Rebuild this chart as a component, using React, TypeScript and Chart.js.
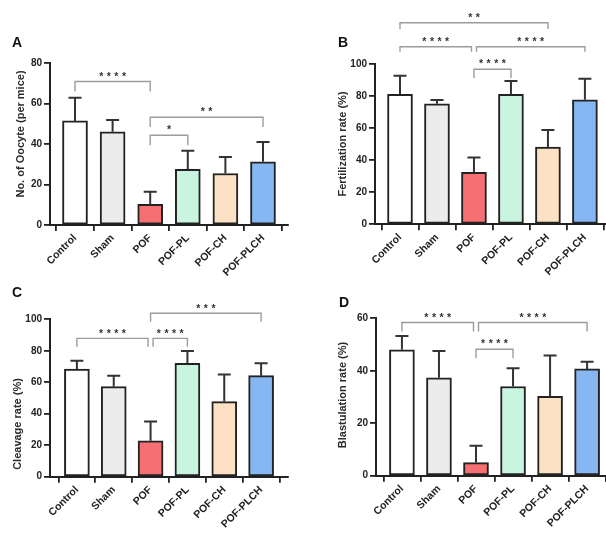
import { useEffect, useRef } from "react";
import { Chart, registerables } from "chart.js";

Chart.register(...registerables);

// ---- data ----
const groups = ["Control", "Sham", "POF", "POF-PL", "POF-CH", "POF-PLCH"];

const oocyteMean = [51.5, 46.1, 10.2, 27.5, 25.5, 31.3];
const oocyteSD = [11.4, 5.8, 6.2, 9.2, 8.2, 9.8];
const oocyteTicks = [0, 20, 40, 60, 80];

const fertilizationMean = [81.3, 75.3, 32.5, 81.3, 48.2, 77.8];
const fertilizationSD = [11.6, 2.4, 9.2, 8.3, 10.8, 13.1];
const fertilizationTicks = [0, 20, 40, 60, 80, 100];

const cleavageMean = [68.4, 57.2, 22.8, 72.0, 47.7, 64.2];
const cleavageSD = [5.3, 7.0, 12.2, 7.9, 17.3, 7.8];
const cleavageTicks = [0, 20, 40, 60, 80, 100];

const blastulationMean = [48.0, 37.3, 5.0, 34.0, 30.3, 40.7];
const blastulationSD = [5.3, 10.2, 6.4, 7.0, 15.5, 2.7];
const blastulationTicks = [0, 20, 40, 60];

type Bracket = { from: number; to: number; level: number; drop: number; stars: string };

const oocyteBrackets: Bracket[] = [
  { from: 0, to: 2, level: 71, drop: 5, stars: "****" },
  { from: 2, to: 5, level: 53.3, drop: 4.8, stars: "**" },
  { from: 2, to: 3, level: 44.4, drop: 4.9, stars: "*" },
];
const fertilizationBrackets: Bracket[] = [
  { from: 0, to: 4, level: 126, drop: 4, stars: "**" },
  { from: 0, to: 2, level: 111, drop: 3.2, stars: "****" },
  { from: 2, to: 5, level: 111, drop: 3.2, stars: "****" },
  { from: 2, to: 3, level: 96.9, drop: 5.4, stars: "****" },
];
const cleavageBrackets: Bracket[] = [
  { from: 2, to: 5, level: 103.8, drop: 5.3, stars: "***" },
  { from: 0, to: 2, level: 87.9, drop: 5.3, stars: "****" },
  { from: 2, to: 3, level: 87.9, drop: 5.3, stars: "****" },
];
const blastulationBrackets: Bracket[] = [
  { from: 0, to: 2, level: 58.4, drop: 3.4, stars: "****" },
  { from: 2, to: 5, level: 58.4, drop: 3.4, stars: "****" },
  { from: 2, to: 3, level: 48.2, drop: 3.4, stars: "****" },
];

// ---- styling ----
const barColors = ["#ffffff", "#ececec", "#f66f72", "#c8f4e0", "#fde1c4", "#86b7f3"];
const FONT = "'Liberation Sans', Arial, Helvetica, sans-serif";
const INK = "#222222";
const STAR_SPACING = 3.5;

type Panel = {
  letter: string;
  title: string;
  mean: number[];
  sd: number[];
  ticks: number[];
  brackets: Bracket[];
  rect: { left: number; top: number; w: number; h: number };
  yWidth: number;
  xHeight: number;
  padTop: number;
  padRight: number;
  xMin: number;
  xMax: number;
  letterPos: [number, number];
  titlePos: [number, number];
};

const panels: Panel[] = [
  {
    letter: "A", title: "No. of Oocyte (per mice)",
    mean: oocyteMean, sd: oocyteSD, ticks: oocyteTicks, brackets: oocyteBrackets,
    rect: { left: 0, top: 0, w: 303, h: 285 },
    yWidth: 50, xHeight: 60, padTop: 63.3, padRight: 15,
    xMin: -0.665, xMax: 5.665, letterPos: [17, 43], titlePos: [21, 134],
  },
  {
    letter: "B", title: "Fertilization rate (%)",
    mean: fertilizationMean, sd: fertilizationSD, ticks: fertilizationTicks, brackets: fertilizationBrackets,
    rect: { left: 303, top: 0, w: 303, h: 285 },
    yWidth: 72, xHeight: 60.7, padTop: 64.3, padRight: 0,
    xMin: -0.676, xMax: 5.57, letterPos: [343, 43], titlePos: [343, 144],
  },
  {
    letter: "C", title: "Cleavage rate (%)",
    mean: cleavageMean, sd: cleavageSD, ticks: cleavageTicks, brackets: cleavageBrackets,
    rect: { left: 0, top: 268, w: 303, h: 267 },
    yWidth: 50, xHeight: 58.3, padTop: 51.3, padRight: 15,
    xMin: -0.73, xMax: 5.73, letterPos: [17, 293], titlePos: [18, 424],
  },
  {
    letter: "D", title: "Blastulation rate (%)",
    mean: blastulationMean, sd: blastulationSD, ticks: blastulationTicks, brackets: blastulationBrackets,
    rect: { left: 303, top: 268, w: 303, h: 267 },
    yWidth: 73, xHeight: 59.3, padTop: 50.3, padRight: 0,
    xMin: -0.7, xMax: 5.51, letterPos: [344, 303], titlePos: [343, 395],
  },
];

// Error bars (upper SD only), significance brackets, panel letter and y title
const panelDecor = {
  id: "panelDecor",
  afterDatasetsDraw(chart: any, _args: any, opts: any) {
    const p: Panel = opts.panel;
    const ctx: CanvasRenderingContext2D = chart.ctx;
    const ys = chart.scales.y;
    const meta = chart.getDatasetMeta(0);
    ctx.save();
    ctx.strokeStyle = "#333333";
    ctx.lineWidth = 2;
    meta.data.forEach((bar: any, i: number) => {
      const yBar = ys.getPixelForValue(p.mean[i]);
      const yTop = ys.getPixelForValue(p.mean[i] + p.sd[i]);
      ctx.beginPath();
      ctx.moveTo(bar.x, yBar);
      ctx.lineTo(bar.x, yTop);
      ctx.moveTo(bar.x - 6.5, yTop);
      ctx.lineTo(bar.x + 6.5, yTop);
      ctx.stroke();
    });
    ctx.restore();
  },
  afterDraw(chart: any, _args: any, opts: any) {
    const p: Panel = opts.panel;
    const ctx: CanvasRenderingContext2D = chart.ctx;
    const xs = chart.scales.x;
    const ys = chart.scales.y;
    ctx.save();

    // brackets
    p.brackets.forEach((b) => {
      let x1 = xs.getPixelForValue(b.from);
      let x2 = xs.getPixelForValue(b.to);
      p.brackets.forEach((o) => {
        if (o === b || Math.abs(o.level - b.level) > 0.01) return;
        if (o.from === b.to) x2 -= 2.5;
        if (o.to === b.from) x1 += 2.5;
      });
      const yl = ys.getPixelForValue(b.level);
      const yd = ys.getPixelForValue(b.level - b.drop);
      ctx.strokeStyle = "#9c9c9c";
      ctx.lineWidth = 1.4;
      ctx.beginPath();
      ctx.moveTo(x1, yd);
      ctx.lineTo(x1, yl);
      ctx.lineTo(x2, yl);
      ctx.lineTo(x2, yd);
      ctx.stroke();
      ctx.fillStyle = "#333333";
      ctx.font = `bold 10.5px ${FONT}`;
      (ctx as any).letterSpacing = `${STAR_SPACING}px`;
      ctx.textAlign = "center";
      ctx.textBaseline = "alphabetic";
      ctx.fillText(b.stars, (x1 + x2) / 2 + STAR_SPACING / 2, yl - 1.8);
      (ctx as any).letterSpacing = "0px";
    });

    // panel letter
    ctx.fillStyle = "#111111";
    ctx.font = `bold 14px ${FONT}`;
    ctx.textAlign = "center";
    ctx.textBaseline = "middle";
    ctx.fillText(p.letter, p.letterPos[0] - p.rect.left, p.letterPos[1] - p.rect.top);

    // y-axis title
    ctx.font = `bold 11px ${FONT}`;
    ctx.fillStyle = "#2a2a2a";
    ctx.translate(p.titlePos[0] - p.rect.left, p.titlePos[1] - p.rect.top);
    ctx.rotate(-Math.PI / 2);
    ctx.fillText(p.title, 0, 0);
    ctx.restore();
  },
};

function PanelChart({ panel }: { panel: Panel }) {
  const ref = useRef<HTMLCanvasElement | null>(null);
  useEffect(() => {
    if (!ref.current) return;
    const p = panel;
    const chart = new Chart(ref.current, {
      type: "bar",
      data: {
        datasets: [
          {
            data: p.mean.map((v, i) => ({ x: i, y: v })),
            backgroundColor: barColors,
            borderColor: INK,
            borderWidth: 2,
            borderSkipped: false,
            barThickness: 25,
          } as any,
        ],
      },
      options: {
        responsive: false,
        animation: false,
        events: [],
        layout: { padding: { top: p.padTop, right: p.padRight, left: 0, bottom: 0 } },
        plugins: {
          legend: { display: false },
          tooltip: { enabled: false },
          panelDecor: { panel: p },
        } as any,
        scales: {
          x: {
            type: "linear",
            min: p.xMin,
            max: p.xMax,
            offset: false,
            afterBuildTicks: (s: any) => {
              s.ticks = groups.map((_, i) => ({ value: i }));
            },
            afterFit: (s: any) => {
              s.height = p.xHeight;
            },
            ticks: {
              autoSkip: false,
              minRotation: 45,
              maxRotation: 45,
              padding: 1,
              color: INK,
              font: { family: FONT, size: 10.5, weight: "bold" },
              callback: (v: any) => groups[Math.round(Number(v))] ?? "",
            },
            grid: { drawOnChartArea: false, drawTicks: true, tickLength: 6, color: INK, lineWidth: 1.8 },
            border: { display: true, color: INK, width: 2 },
          },
          y: {
            type: "linear",
            min: p.ticks[0],
            max: p.ticks[p.ticks.length - 1],
            afterBuildTicks: (s: any) => {
              s.ticks = p.ticks.map((v) => ({ value: v }));
            },
            afterFit: (s: any) => {
              s.width = p.yWidth;
            },
            ticks: {
              padding: 2,
              color: INK,
              font: { family: FONT, size: 10, weight: "bold" },
            },
            grid: { drawOnChartArea: false, drawTicks: true, tickLength: 6, color: INK, lineWidth: 1.8 },
            border: { display: true, color: INK, width: 2 },
          },
        },
      } as any,
      plugins: [panelDecor as any],
    });
    return () => chart.destroy();
  }, [panel]);
  return (
    <canvas
      ref={ref}
      width={panel.rect.w}
      height={panel.rect.h}
      style={{
        position: "absolute",
        left: panel.rect.left,
        top: panel.rect.top,
        width: panel.rect.w,
        height: panel.rect.h,
      }}
    />
  );
}

export default function App() {
  return (
    <div style={{ position: "absolute", left: 0, top: 0, width: 606, height: 535, background: "#ffffff", overflow: "hidden" }}>
      {panels.map((p) => (
        <PanelChart key={p.letter} panel={p} />
      ))}
    </div>
  );
}
